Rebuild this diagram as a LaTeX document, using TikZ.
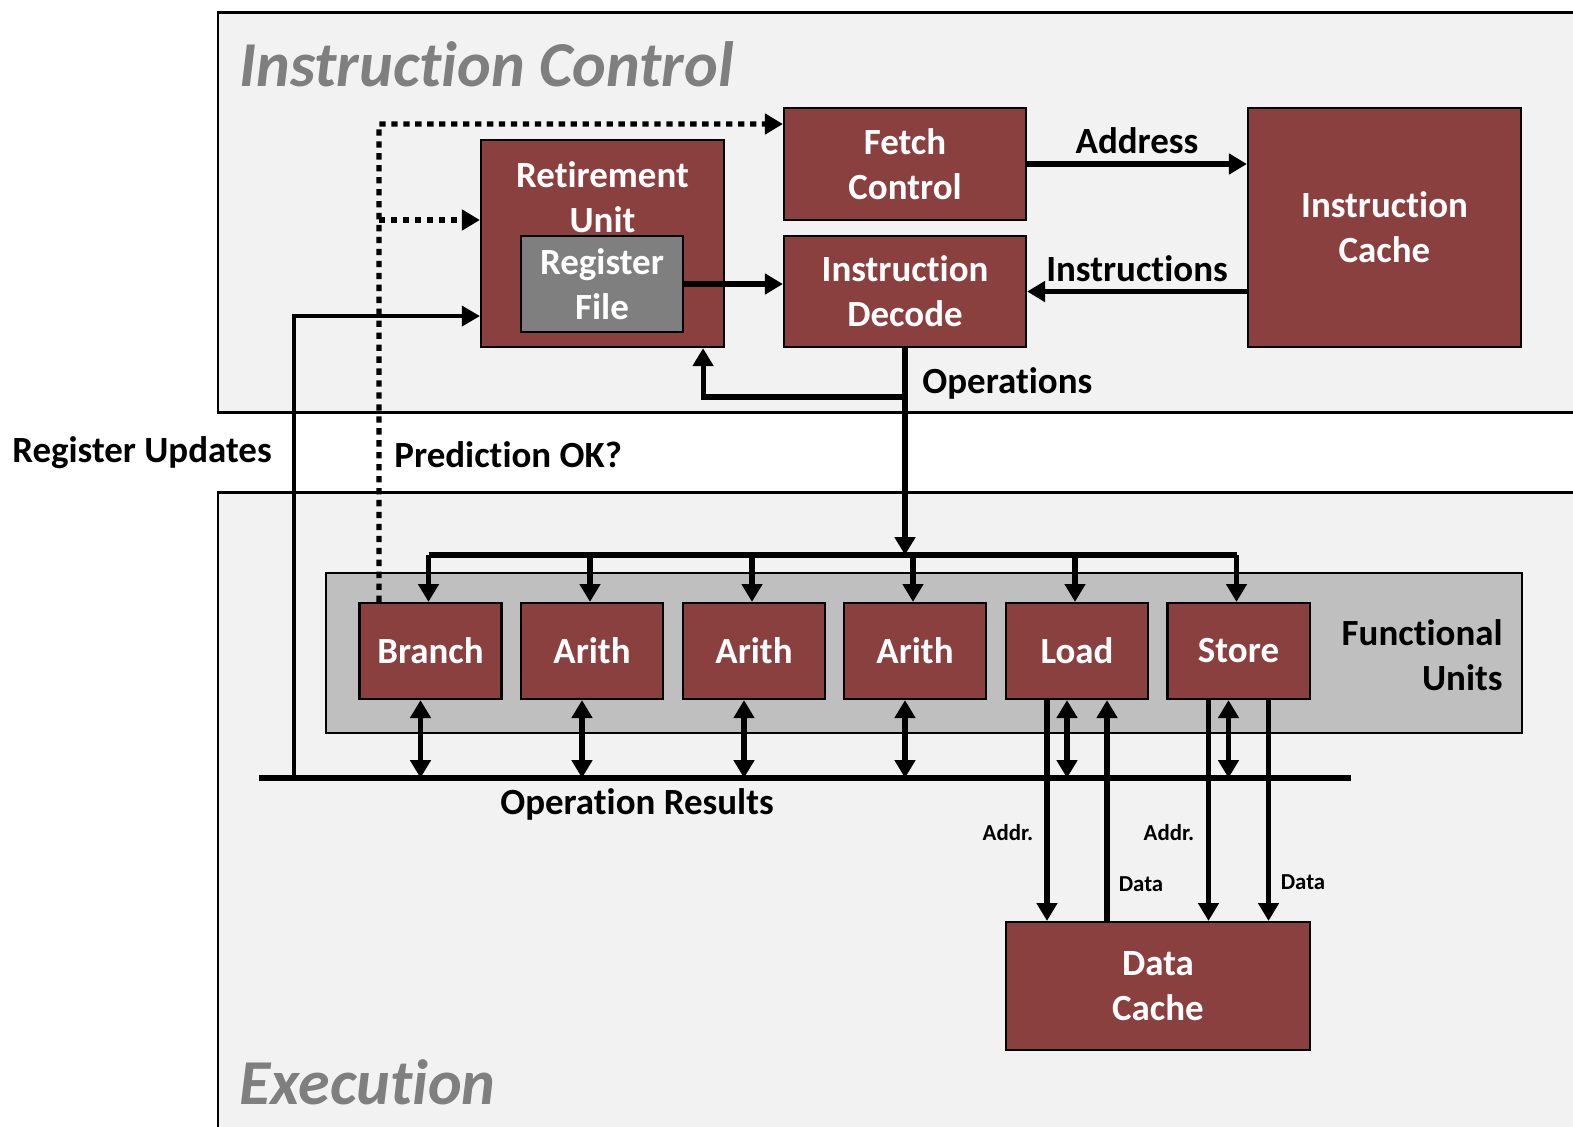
\documentclass[tikz,border=0pt]{standalone}
\usepackage{fontspec}
\setmainfont{Carlito}[Ligatures=NoCommon]
\usepackage{tikz}
\usetikzlibrary{arrows.meta, calc, positioning}
\definecolor{maroon}{HTML}{8B4040}
\definecolor{panel}{HTML}{F2F2F2}
\definecolor{fugray}{HTML}{BFBFBF}
\definecolor{rfgray}{HTML}{7F7F7F}

\begin{document}
\begin{tikzpicture}[x=0.01cm, y=-0.01cm,
  blk/.style={draw=black, line width=0.6pt, fill=maroon, text=white, align=center,
    inner sep=0pt, font=\bfseries\fontsize{10.5}{12.8}\selectfont},
  wtxt/.style={text=white, align=center, font=\bfseries\fontsize{10.5}{12.8}\selectfont},
  lbl/.style={align=center, font=\bfseries\fontsize{10.5}{12.8}\selectfont},
  small/.style={font=\bfseries\fontsize{6.5}{8}\selectfont},
  title/.style={anchor=west, text=rfgray, font=\bfseries\itshape\fontsize{18.2}{22}\selectfont},
  arr/.style={line width=1.45pt, -{Triangle[length=5.1pt,width=5.7pt]}},
  darr/.style={line width=1.45pt, {Triangle[length=5.1pt,width=5.7pt]}-{Triangle[length=5.1pt,width=5.7pt]}},
  dots/.style={line width=1.45pt, dash pattern=on 1.8pt off 1.6pt, -{Triangle[length=5.1pt,width=5.7pt]}}]
\useasboundingbox (0,0) rectangle (1573,1126);
\fill[white] (0,0) rectangle (1573,1126);
\clip (0,0) rectangle (1573,1126);
\draw[line width=0.85pt, fill=panel] (218,12) rectangle (1600,412);
\draw[line width=0.85pt, fill=panel] (218,492) rectangle (1600,1140);
\draw[line width=0.6pt, fill=fugray] (326,573) rectangle (1522,733);
\node[title] at (227,64) {Instruction Control};
\node[title] at (227,1082) {Execution};

\node[blk, minimum width=2.42cm, minimum height=1.12cm] (F) at (905,164) {Fetch\\Control};
\node[blk, minimum width=2.42cm, minimum height=1.11cm] (D) at (905,291.5) {Instruction\\Decode};
\node[blk, minimum width=2.73cm, minimum height=2.39cm] (IC) at (1384.5,227.5) {Instruction\\Cache};
\node[blk, minimum width=2.43cm, minimum height=2.07cm] (RU) at (602.5,243.5) {};
\node[wtxt] at (602.5,197) {Retirement\\Unit};
\node[blk, fill=rfgray, minimum width=1.62cm, minimum height=0.96cm] (RF) at (602,284) {Register\\File};
\node[blk, minimum width=3.04cm, minimum height=1.28cm] (DC) at (1158,986) {Data\\Cache};
\foreach \n/\x/\t in {B/430.5/Branch, A1/592/Arith, A2/754/Arith, A3/915/Arith, L/1077/Load, S/1238.5/Store}
  \node[blk, minimum width=1.42cm, minimum height=0.96cm] (\n) at (\x,651) {\t};
\node[lbl, align=right, anchor=east] at (1515,655) {Functional\\Units};

\coordinate (bus) at (905,555);
\coordinate (orL) at (259,778);
\coordinate (orR) at (1351,778);
\coordinate (ru) at (294,778);
\coordinate (op) at (905,397);
\coordinate (pk) at (379,124);
\coordinate (p1) at ([yshift=0.235cm]RU.west);

\draw[arr] (F.east) -- node[lbl, above, yshift=-0.04cm] {Address} (F.east -| IC.west);
\draw[arr] (IC.west |- D.east) -- node[lbl, above, yshift=-0.05cm] {Instructions} (D.east);
\draw[arr] (RF.east) -- (RF.east -| D.west);
\draw[arr] (D.south) -- (D.south |- bus);
\draw[arr] (op) -| ([xshift=1.005cm]RU.south);
\node[lbl, anchor=west] at (910,383) {Operations};

\draw[line width=1.45pt] ([xshift=-0.02cm]B.north |- bus) -- ([xshift=-0.02cm]S.north |- bus);
\foreach \n in {B,A1,A2,A3,L,S} {
  \draw[arr] ([xshift=-0.02cm]\n.north |- bus) -- ([xshift=-0.02cm]\n.north);
  \draw[darr] ([xshift=-0.1cm]\n.south) -- ([xshift=-0.1cm]\n.south |- orL);
}
\draw[line width=1.55pt] (orL) -- (orR);
\node[lbl] at (637,804) {Operation Results};

\draw[arr] ([xshift=-0.3cm]L.south) -- ([xshift=-0.3cm]L.south |- DC.north);
\draw[arr] ([xshift=0.3cm]L.south |- DC.north) -- ([xshift=0.3cm]L.south);
\draw[arr] ([xshift=-0.3cm]S.south) -- ([xshift=-0.3cm]S.south |- DC.north);
\draw[arr] ([xshift=0.3cm]S.south) -- ([xshift=0.3cm]S.south |- DC.north);
\node[small] at (1008,833) {Addr.};
\node[small] at (1141,884) {Data};
\node[small] at (1169,833) {Addr.};
\node[small] at (1303,882) {Data};

\draw[line width=0.95pt, -{Triangle[length=5.1pt,width=5.7pt]}] (ru) |- ([yshift=-0.725cm]RU.west);
\node[lbl] at (142,453) {Register Updates};

\draw[dots] ([xshift=-0.515cm]B.north) -- (pk) -- (pk -| F.west);
\draw[dots] (pk |- p1) -- (p1);
\node[lbl, anchor=west] at (382,455) {Prediction OK?};
\end{tikzpicture}
\end{document}
